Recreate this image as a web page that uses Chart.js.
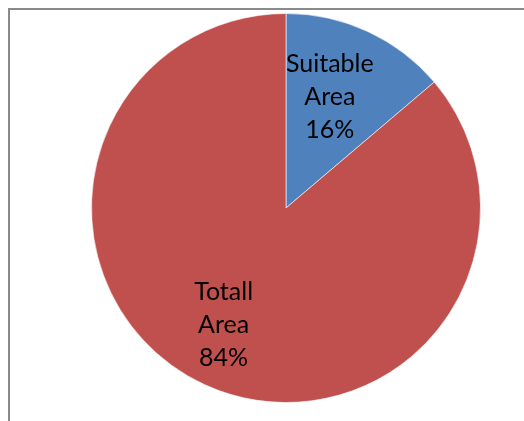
<!DOCTYPE html>
<html>
<head>
<meta charset="utf-8">
<script src="https://cdn.jsdelivr.net/npm/chart.js@4/dist/chart.umd.min.js"></script>
<style>
  html, body { margin: 0; padding: 0; background: #fff; }
  #wrap { position: relative; width: 524px; height: 421px; overflow: hidden; }
  #frame { position: absolute; left: 8px; top: 8px; width: 600px; height: 500px;
           border-top: 2px solid #8a8a8a; border-left: 2px solid #8a8a8a; box-sizing: border-box; }
  canvas { position: absolute; left: 0; top: 0; }
</style>
</head>
<body>
<div id="wrap">
  <div id="frame"></div>
  <canvas id="c" width="524" height="421"></canvas>
</div>
<script>
const categories = ["Suitable Area", "Totall Area"];
const values = [16, 100];
const labelLines = [["Suitable", "Area", "16%"], ["Totall", "Area", "84%"]];
const colors = ["#4F81BD", "#C0504D"];

const labelPlugin = {
  id: 'sliceLabels',
  afterDatasetsDraw(chart, args, opts) {
    const ctx = chart.ctx;
    const meta = chart.getDatasetMeta(0);
    meta.data.forEach((arc, i) => {
      const p = arc.getProps(['x', 'y', 'startAngle', 'endAngle', 'outerRadius'], true);
      const mid = (p.startAngle + p.endAngle) / 2 + opts.angleShift[i];
      const r = p.outerRadius * opts.radiusFactor[i];
      const cx = p.x + Math.cos(mid) * r;
      const cy = p.y + Math.sin(mid) * r;
      const lines = labelLines[i];
      ctx.save();
      ctx.font = opts.font;
      ctx.fillStyle = '#000';
      ctx.textAlign = 'center';
      ctx.textBaseline = 'middle';
      const lh = opts.lineHeight;
      lines.forEach((t, k) => {
        ctx.fillText(t, cx, cy + (k - (lines.length - 1) / 2) * lh);
      });
      ctx.restore();
    });
  }
};

new Chart(document.getElementById('c'), {
  type: 'pie',
  data: {
    labels: categories,
    datasets: [{
      data: values,
      backgroundColor: colors,
      borderColor: 'rgba(255,255,255,0.6)',
      borderWidth: 1,
      hoverOffset: 0
    }]
  },
  options: {
    responsive: false,
    animation: false,
    layout: { padding: { left: 91, right: 43, top: 13, bottom: 18 } },
    plugins: {
      legend: { display: false },
      tooltip: { enabled: false },
      sliceLabels: {
        font: '25px "Lato", "Liberation Sans", sans-serif',
        lineHeight: 33,
        angleShift: [-0.056, 0.058],
        radiusFactor: [0.612, 0.68]
      }
    }
  },
  plugins: [labelPlugin]
});
</script>
</body>
</html>
